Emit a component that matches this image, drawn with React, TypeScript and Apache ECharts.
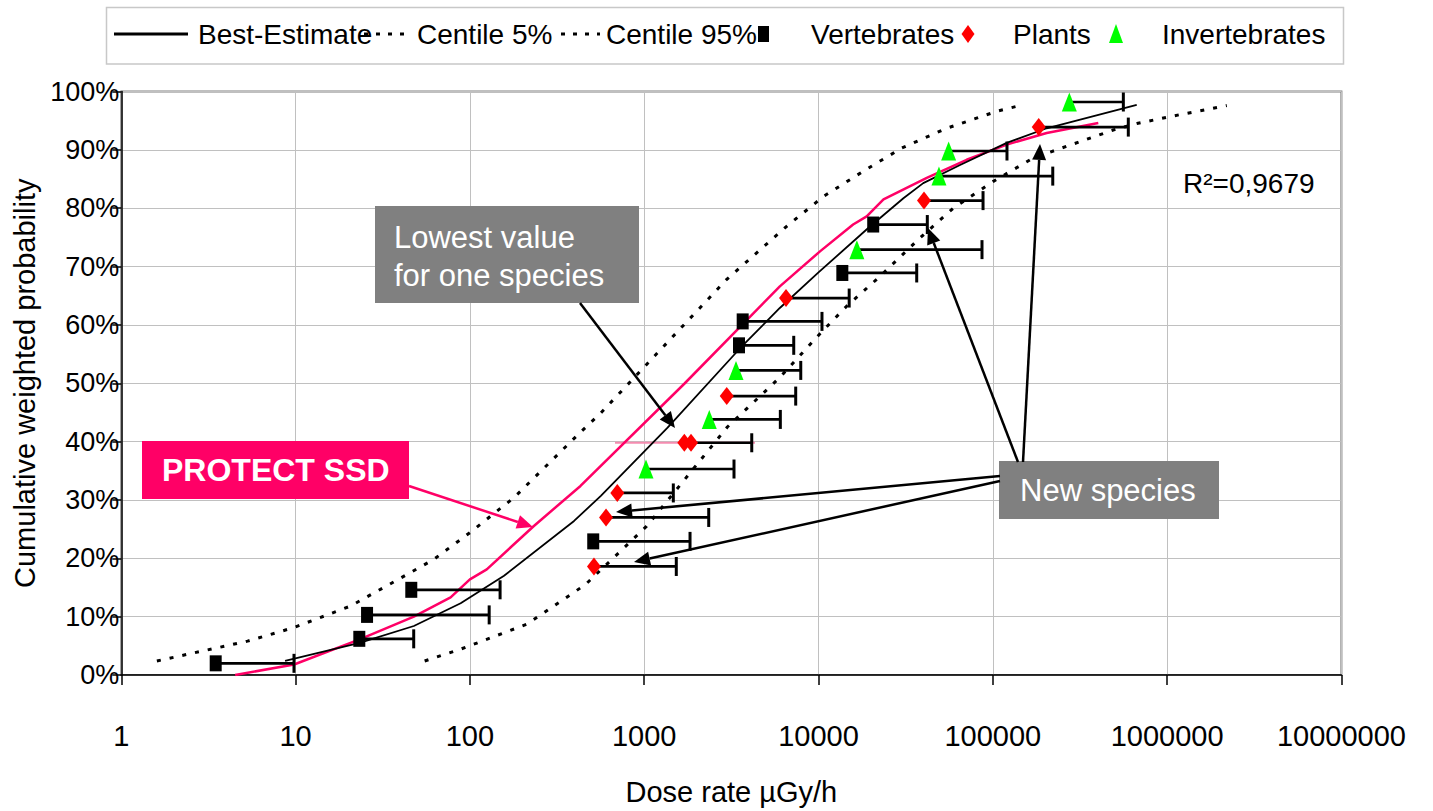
import React, { useEffect, useRef } from 'react';
import * as echarts from 'echarts';

// ---------- data (dose rate µGy/h, cumulative weighted probability %) ----------
const bestEstimate: number[][] = [
  [8.7, 2.4], [23.3, 5.5], [47.7, 8.4], [88.5, 12.3], [157, 17], [396, 26.4], [564, 30.7],
  [1362, 42.4], [3550, 56], [6000, 62.9], [10000, 69], [19300, 76.6], [30700, 81.7],
  [39900, 84.3], [64900, 87.4], [120200, 91.2], [203800, 93.7], [669500, 97.7],
];
const centile5: number[][] = [
  [1.6, 2.4], [5.3, 5.8], [9.7, 8.1], [20.6, 11.8], [40, 16.6], [62, 19.8], [100, 24.4],
  [179, 30.4], [427, 41.5], [564, 44.9], [2975, 67.8], [6570, 76.9], [10660, 82],
  [18900, 86.7], [30000, 90.3], [54400, 93.7], [105300, 96.6], [143000, 97.6],
];
const centile95: number[][] = [
  [55, 2.4], [88, 4.4], [212, 8.7], [460, 15.5], [1033, 25.5], [3000, 42.5], [6000, 51],
  [10200, 58.5], [14500, 63.2], [22500, 68.3], [38200, 74.9], [59300, 80], [100700, 84.6],
  [170700, 88.6], [265000, 90.6], [491000, 93.4], [670000, 94.5], [1040000, 95.7], [2200000, 97.6],
];
const protectSSD: number[][] = [
  [4.5, 0], [9.8, 1.8], [23.3, 6.1], [47.7, 10], [77.5, 13.3], [100, 16.4], [125, 18.1],
  [232, 25.5], [431, 32.4], [1710, 50], [6000, 66.6], [10200, 72.6], [15800, 77.2],
  [18900, 78.6], [23600, 81.5], [41800, 85.2], [70800, 88.3], [120200, 90.9],
  [203800, 92.9], [403000, 94.6],
];
const pinkRef40: number[][] = [[680, 39.8], [4320, 39.8]];

const vertebrates: number[][] = [
  [3.48, 2.0], [23.2, 6.2], [25.7, 10.3], [46.1, 14.6], [510, 22.9], [3499, 56.5],
  [3673, 60.6], [13700, 68.9], [20600, 77.2],
];
const vertebratesMax: (number | null)[] = [9.79, 47.6, 129, 149, 1832, 7210, 10470, 36600, 42100];

const plants: number[][] = [
  [515, 18.6], [604, 27.0], [701, 31.2], [1699, 39.8], [1856, 39.8], [2975, 47.8],
  [6510, 64.6], [40300, 81.3], [183400, 93.9],
];
const plantsMax: (number | null)[] = [1528, 2345, 1469, null, 4140, 7400, 15000, 87900, 599000];

const invertebrates: number[][] = [
  [1024, 35.3], [2362, 43.8], [3363, 52.2], [16600, 72.9], [49100, 85.5], [55800, 89.8], [274800, 98.2],
];
const invertebratesMax: (number | null)[] = [3275, 6040, 7910, 86700, 220800, 120600, 561000];

const xTickMin = 1;
const xTickMax = 10000000;
const yTicks = [0, 100, 10]; // min, max, interval

const FONT = "'Liberation Sans', Arial, Helvetica, sans-serif";
const PINK = '#ff0066';

function buildErrorBars(points: number[][], maxima: (number | null)[]) {
  const out: number[][] = [];
  points.forEach((p, i) => {
    const m = maxima[i];
    if (m != null) out.push([p[0], p[1], m]);
  });
  return out;
}

function arrow(x1: number, y1: number, x2: number, y2: number, color: string, lw: number, hl = 16, hw = 7) {
  const dx = x2 - x1, dy = y2 - y1;
  const len = Math.hypot(dx, dy);
  const ux = dx / len, uy = dy / len;
  const bx = x2 - ux * hl, by = y2 - uy * hl;
  const px = -uy, py = ux;
  return [
    { type: 'line', z: 100, shape: { x1, y1, x2: bx, y2: by }, style: { stroke: color, lineWidth: lw } },
    {
      type: 'polygon', z: 100,
      shape: { points: [[x2, y2], [bx + px * hw, by + py * hw], [bx - px * hw, by - py * hw]] },
      style: { fill: color },
    },
  ];
}

function txt(x: number, y: number, text: string, size: number, color: string, weight: any = 'normal', align = 'left') {
  return {
    type: 'text', z: 101, x, y,
    style: {
      text, fill: color, fontSize: size, fontFamily: FONT, fontWeight: weight,
      textAlign: align, textVerticalAlign: 'middle', align, verticalAlign: 'middle',
    },
  };
}

export default function App() {
  const ref = useRef<HTMLDivElement>(null);

  useEffect(() => {
    if (!ref.current) return;
    const chart = echarts.init(ref.current, undefined, { renderer: 'svg' });

    const errorData = [
      ...buildErrorBars(vertebrates, vertebratesMax),
      ...buildErrorBars(plants, plantsMax),
      ...buildErrorBars(invertebrates, invertebratesMax),
    ];

    const legendY = 34;
    const graphic: any[] = [
      // legend box
      { type: 'rect', z: 90, shape: { x: 106.5, y: 7.5, width: 1237, height: 56.5 }, style: { fill: '#fff', stroke: '#c8c8c8', lineWidth: 1.5 } },
      { type: 'line', z: 91, shape: { x1: 114, y1: legendY, x2: 188, y2: legendY }, style: { stroke: '#000', lineWidth: 3 } },
      txt(198, legendY, 'Best-Estimate', 28, '#000'),
      { type: 'line', z: 91, shape: { x1: 364, y1: legendY, x2: 412, y2: legendY }, style: { stroke: '#000', lineWidth: 3, lineDash: [4, 8] } },
      txt(417, legendY, 'Centile 5%', 28, '#000'),
      { type: 'line', z: 91, shape: { x1: 561, y1: legendY, x2: 600, y2: legendY }, style: { stroke: '#000', lineWidth: 3, lineDash: [4, 8] } },
      txt(606, legendY, 'Centile 95%', 28, '#000'),
      { type: 'rect', z: 102, shape: { x: 758, y: 26, width: 11, height: 16 }, style: { fill: '#000' } },
      txt(811, legendY, 'Vertebrates', 28, '#000'),
      { type: 'polygon', z: 102, shape: { points: [[968, 25], [974.5, 34], [968, 43], [961.5, 34]] }, style: { fill: '#ff0000' } },
      txt(1013, legendY, 'Plants', 28, '#000'),
      { type: 'polygon', z: 102, shape: { points: [[1116, 24], [1123, 43], [1109, 43]] }, style: { fill: '#00ff00' } },
      txt(1162, legendY, 'Invertebrates', 28, '#000'),

      // R²
      txt(1183, 183, 'R²=0,9679', 28, '#000'),

      // Lowest value box
      { type: 'rect', z: 99, shape: { x: 375, y: 206, width: 264, height: 97 }, style: { fill: '#808080' } },
      txt(394, 237, 'Lowest value', 31, '#fff'),
      txt(394, 275, 'for one species', 31, '#fff'),
      ...arrow(580, 303, 675, 428, '#000', 2.5),

      // PROTECT SSD box
      { type: 'rect', z: 99, shape: { x: 142, y: 441, width: 267, height: 58 }, style: { fill: PINK } },
      txt(162, 470, 'PROTECT SSD', 32, '#fff', 'bold'),
      ...arrow(409, 486, 533, 527, PINK, 2.5),

      // New species box
      { type: 'rect', z: 99, shape: { x: 999, y: 461, width: 220, height: 58 }, style: { fill: '#808080' } },
      txt(1020, 490, 'New species', 31, '#fff'),
      ...arrow(1018, 462, 928, 228, '#000', 2.5),
      ...arrow(1023, 462, 1040, 144, '#000', 2.5),
      ...arrow(1000, 476, 616, 512, '#000', 2.5),
      ...arrow(1000, 481, 634, 562, '#000', 2.5),
    ];

    const option: any = {
      animation: false,
      backgroundColor: '#fff',
      textStyle: { fontFamily: FONT },
      grid: {
        left: 121.3, right: 91.6, top: 91.5, bottom: 135.3,
        show: true, borderColor: '#808080', borderWidth: 2, backgroundColor: 'transparent',
      },
      xAxis: {
        type: 'log', logBase: 10, min: xTickMin, max: xTickMax,
        name: 'Dose rate µGy/h', nameLocation: 'middle', nameGap: 102,
        nameTextStyle: { fontSize: 29, color: '#000', fontFamily: FONT },
        axisLine: { show: true, lineStyle: { color: '#000', width: 1.5 } },
        axisTick: { show: true, length: 10, lineStyle: { color: '#000', width: 1.5 } },
        axisLabel: {
          fontSize: 29, color: '#000', margin: 46, fontFamily: FONT,
          formatter: (v: number) => String(Math.round(v)),
        },
        splitLine: { show: true, lineStyle: { color: '#c0c0c0', width: 1 } },
        minorTick: { show: false },
        minorSplitLine: { show: false },
      },
      yAxis: {
        type: 'value', min: yTicks[0], max: yTicks[1], interval: yTicks[2],
        name: 'Cumulative weighted probability', nameLocation: 'middle', nameGap: 80, nameRotate: 90,
        nameTextStyle: { fontSize: 29, color: '#000', fontFamily: FONT },
        axisLine: { show: true, lineStyle: { color: '#000', width: 1.5 } },
        axisTick: { show: true, length: 9, lineStyle: { color: '#000', width: 1.5 } },
        axisLabel: { fontSize: 27, color: '#000', margin: 2, formatter: '{value}%', fontFamily: FONT },
        splitLine: { show: true, lineStyle: { color: '#c0c0c0', width: 1 } },
      },
      series: [
        {
          name: 'pink-40', type: 'line', data: pinkRef40, symbol: 'none', silent: true, z: 2,
          lineStyle: { color: '#f58cb0', width: 2 },
        },
        {
          name: 'PROTECT SSD', type: 'line', data: protectSSD, symbol: 'none', z: 3,
          lineStyle: { color: PINK, width: 2.5 },
        },
        {
          name: 'Best-Estimate', type: 'line', data: bestEstimate, symbol: 'none', z: 4,
          lineStyle: { color: '#000', width: 1.8 },
        },
        {
          name: 'Centile 5%', type: 'line', data: centile5, symbol: 'none', z: 4,
          lineStyle: { color: '#000', width: 3, type: [4, 9] },
        },
        {
          name: 'Centile 95%', type: 'line', data: centile95, symbol: 'none', z: 4,
          lineStyle: { color: '#000', width: 3, type: [4, 9] },
        },
        {
          name: 'errors', type: 'custom', data: errorData, z: 5,
          encode: { x: [0, 2], y: 1 },
          renderItem: (params: any, api: any) => {
            const p0 = api.coord([api.value(0), api.value(1)]);
            const p1 = api.coord([api.value(2), api.value(1)]);
            return {
              type: 'group',
              children: [
                { type: 'line', shape: { x1: p0[0], y1: p0[1], x2: p1[0], y2: p1[1] }, style: { stroke: '#000', lineWidth: 2.7 } },
                { type: 'line', shape: { x1: p1[0], y1: p1[1] - 9.5, x2: p1[0], y2: p1[1] + 9.5 }, style: { stroke: '#000', lineWidth: 3 } },
              ],
            };
          },
        },
        {
          name: 'Vertebrates', type: 'scatter', data: vertebrates, z: 6,
          symbol: 'rect', symbolSize: [12, 16], itemStyle: { color: '#000', opacity: 1 },
        },
        {
          name: 'Plants', type: 'scatter', data: plants, z: 6,
          symbol: 'diamond', symbolSize: [14, 18], itemStyle: { color: '#ff0000', opacity: 1 },
        },
        {
          name: 'Invertebrates', type: 'scatter', data: invertebrates, z: 6,
          symbol: 'triangle', symbolSize: [15, 19], itemStyle: { color: '#00ff00', opacity: 1 },
        },
      ],
      graphic,
    };

    chart.setOption(option);
    return () => chart.dispose();
  }, []);

  return <div ref={ref} style={{ position: 'absolute', left: 0, top: 0, width: 1433, height: 811 }} />;
}
